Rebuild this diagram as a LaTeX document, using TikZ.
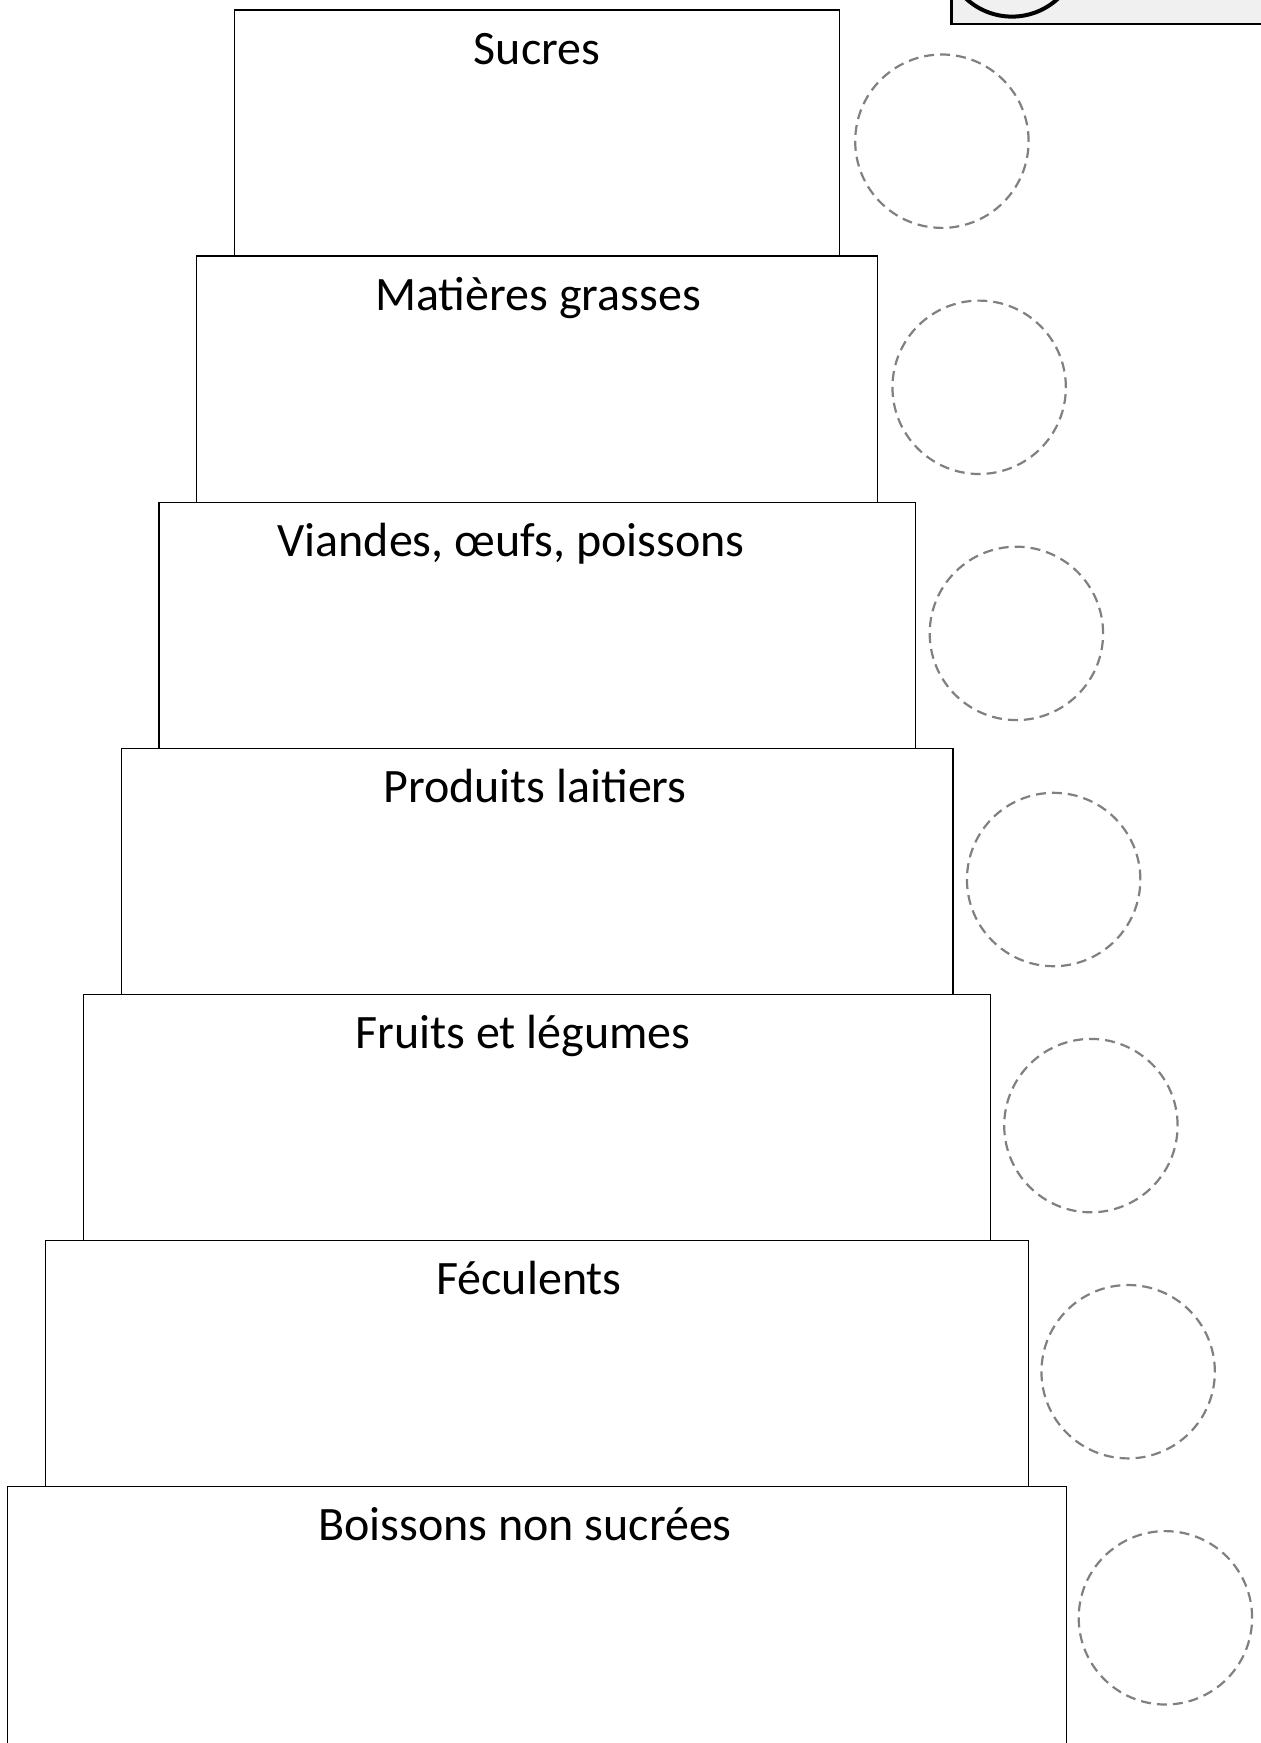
\documentclass[tikz,border=0pt]{standalone}
\usepackage{fontspec}
\setmainfont{Carlito}
\begin{document}
\begin{tikzpicture}[x=1pt,y=-1pt,
  tier/.style={draw=black, line width=1.3pt, fill=white},
  tierlabel/.style={anchor=base, inner sep=0pt, font=\fontsize{48}{57}\selectfont},
  mark circle/.style={draw=black!50, line width=2.2pt, dash pattern=on 10pt off 6pt},
]
\useasboundingbox (0,0) rectangle (1261,1743);
\begin{scope}
\clip (0,0) rectangle (1261,1743);
% top-right element
\draw[fill=black!6, draw=black, line width=2.5pt] (951.7,-40) rectangle (1300,24);
\draw[black, line width=4pt] (1012,-51) circle (67.6);
% tiers (drawn bottom to top so upper tiers' bottom edges stay visible)
\foreach \i/\txt/\cx in {6/Boissons non sucrées/525, 5/Féculents/529, 4/Fruits et légumes/523, 3/Produits laitiers/535, 2/{Viandes, œufs, poissons}/511, 1/Matières grasses/538, 0/Sucres/537}{
  \pgfmathsetmacro{\L}{234.6-37.8*\i}
  \pgfmathsetmacro{\R}{839.6+37.8*\i}
  \pgfmathsetmacro{\T}{10+246.1*\i}
  \pgfmathsetmacro{\B}{\i==6 ? 1800 : \T+246.1}
  \draw[tier] (\L,\T) rectangle (\R,\B);
  \coordinate (tier\i) at (\L,\T);
  \node[tierlabel] (label\i) at (\cx,\T+54) {\txt};
  \node[mark circle, circle, minimum size=173.4pt, inner sep=0pt] (ring\i) at ({941.9+37.25*\i},{141.2+246.1*\i}) {};
}
\end{scope}
\end{tikzpicture}
\end{document}
